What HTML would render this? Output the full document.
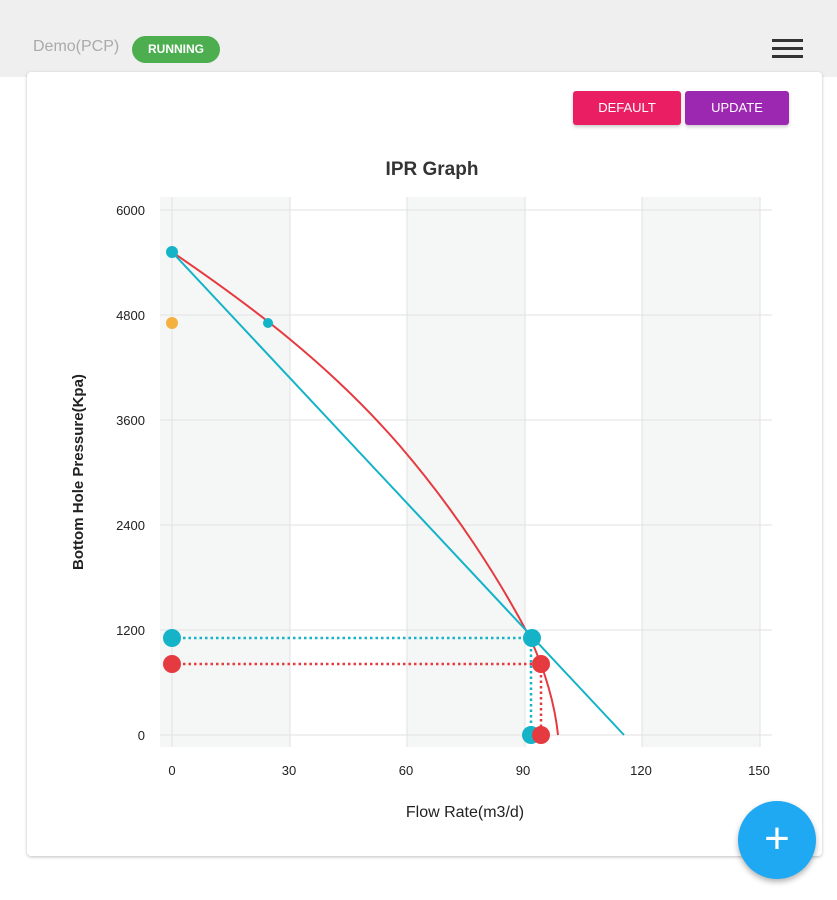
<!DOCTYPE html>
<html><head><style>
body{margin:0;width:837px;height:900px;background:#fff;font-family:"Liberation Sans",sans-serif;position:relative;overflow:hidden}
.hdr{position:absolute;left:0;top:0;width:837px;height:77px;background:#efefef}
.card{position:absolute;left:27px;top:72px;width:795px;height:784px;background:#fff;border-radius:4px;box-shadow:0 1px 3px rgba(0,0,0,.25)}
.btn{position:absolute;top:91px;height:34px;color:#fff;font-size:13px;line-height:34px;text-align:center;border-radius:3px;box-shadow:0 2px 3px rgba(0,0,0,.2)}
.fab{position:absolute;left:738px;top:801px;width:78px;height:78px;border-radius:50%;background:#1ea9f2;box-shadow:0 3px 6px rgba(0,0,0,.3);color:#fff;font-size:44px;line-height:76px;text-align:center;font-weight:300}
</style></head><body>
<div class="hdr">
<div style="position:absolute;left:33px;top:38px;font-size:16px;color:#aaa">Demo(PCP)</div>
<div style="position:absolute;left:132px;top:36px;width:88px;height:27px;border-radius:14px;background:#4cae4f;color:#fff;font-size:12px;font-weight:bold;line-height:27px;text-align:center">RUNNING</div>
<div style="position:absolute;left:772px;top:39px;width:31px;height:3px;background:#333"></div>
<div style="position:absolute;left:772px;top:47px;width:31px;height:3px;background:#333"></div>
<div style="position:absolute;left:772px;top:55px;width:31px;height:3px;background:#333"></div>
</div>
<div class="card"></div>
<div class="btn" style="left:573px;width:108px;background:#e91e63">DEFAULT</div>
<div class="btn" style="left:685px;width:104px;background:#9c27b0">UPDATE</div>
<svg style="position:absolute;left:0;top:0" width="837" height="900" font-family="Liberation Sans, sans-serif">
<text x="432" y="175" font-size="19" font-weight="bold" text-anchor="middle" fill="#333">IPR Graph</text>
<rect x="160" y="197" width="612" height="550" fill="#fff"/>
<rect x="160" y="197" width="130" height="550" fill="#f5f6f6"/>
<rect x="407" y="197" width="118" height="550" fill="#f5f6f6"/>
<rect x="642" y="197" width="118" height="550" fill="#f5f6f6"/>
<g stroke="#e2e2e2" stroke-width="1">
<line x1="172" y1="197" x2="172" y2="747"/><line x1="290" y1="197" x2="290" y2="747"/><line x1="407" y1="197" x2="407" y2="747"/><line x1="525" y1="197" x2="525" y2="747"/><line x1="642" y1="197" x2="642" y2="747"/><line x1="760" y1="197" x2="760" y2="747"/>
<line x1="160" y1="210" x2="772" y2="210"/><line x1="160" y1="315" x2="772" y2="315"/><line x1="160" y1="420" x2="772" y2="420"/><line x1="160" y1="525" x2="772" y2="525"/><line x1="160" y1="630" x2="772" y2="630"/><line x1="160" y1="735" x2="772" y2="735"/>
</g>
<g font-size="13" fill="#222" text-anchor="end">
<text x="145" y="215">6000</text><text x="145" y="320">4800</text><text x="145" y="425">3600</text><text x="145" y="530">2400</text><text x="145" y="635">1200</text><text x="145" y="740">0</text>
</g>
<g font-size="13" fill="#222" text-anchor="middle">
<text x="172" y="775">0</text><text x="289" y="775">30</text><text x="406" y="775">60</text><text x="523" y="775">90</text><text x="641" y="775">120</text><text x="759" y="775">150</text>
</g>
<text x="465" y="817" font-size="16" text-anchor="middle" fill="#222">Flow Rate(m3/d)</text>
<text transform="translate(83,472) rotate(-90)" font-size="15" font-weight="bold" text-anchor="middle" fill="#222">Bottom Hole Pressure(Kpa)</text>
<line x1="172" y1="638" x2="532" y2="638" stroke="#14b3c8" stroke-width="2.5" stroke-dasharray="2.5,3"/>
<line x1="531" y1="638" x2="531" y2="735" stroke="#14b3c8" stroke-width="2.5" stroke-dasharray="2.5,3"/>
<line x1="172" y1="664" x2="541" y2="664" stroke="#e53a3f" stroke-width="2.5" stroke-dasharray="2.5,3"/>
<line x1="541" y1="664" x2="541" y2="735" stroke="#e53a3f" stroke-width="2.5" stroke-dasharray="2.5,3"/>
<path fill="none" stroke="#e53a3f" stroke-width="2" d="M172,252 C250,305 330,365 400,446 C455,510 500,580 530,638 C545,670 555,705 558,735"/>
<line x1="172" y1="252" x2="624" y2="735" stroke="#14b3c8" stroke-width="2"/>
<circle cx="172" cy="252" r="6" fill="#14b3c8"/>
<circle cx="268" cy="323" r="5" fill="#14b3c8"/>
<circle cx="172" cy="323" r="6" fill="#f4b13f"/>
<circle cx="172" cy="638" r="9" fill="#14b3c8"/>
<circle cx="532" cy="638" r="9" fill="#14b3c8"/>
<circle cx="172" cy="664" r="9" fill="#e53a3f"/>
<circle cx="541" cy="664" r="9" fill="#e53a3f"/>
<circle cx="531" cy="735" r="9" fill="#14b3c8"/>
<circle cx="541" cy="735" r="9" fill="#e53a3f"/>
</svg>
<div class="fab">+</div>
</body></html>
